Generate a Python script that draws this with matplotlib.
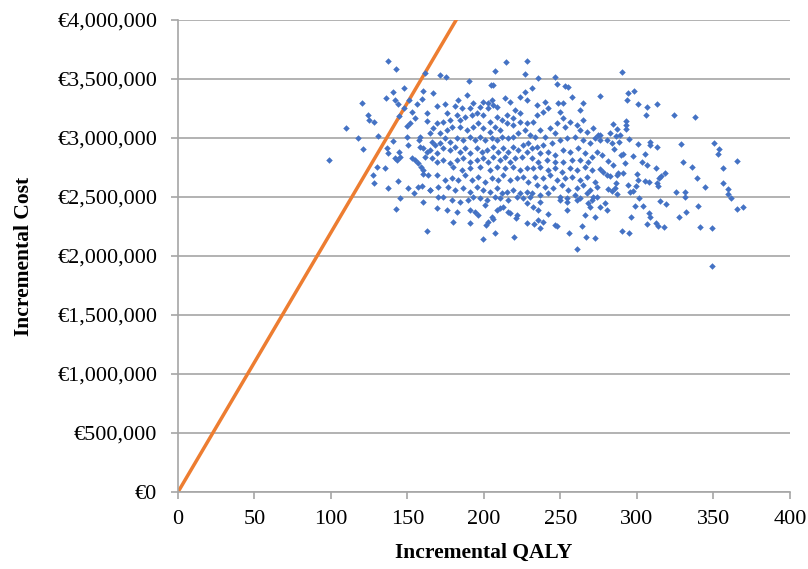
import numpy as np
import matplotlib
matplotlib.use('Agg')
import matplotlib.pyplot as plt
from matplotlib.ticker import FuncFormatter, MultipleLocator

# probabilistic sensitivity analysis, read off the picture region by region
# (QALY gained, cost in EUR millions)
qaly_left = [137.5, 142.7, 161.5, 171.2, 175.2, 147.7, 140.3, 160.3, 120.0, 136.0,
             141.8, 143.6, 151.0, 156.0, 159.3, 124.4, 124.8, 128.1, 144.4, 147.7,
             152.7, 154.9, 151.6, 149.9, 162.5, 163.0, 109.8, 117.4, 120.7, 98.7,
             130.9, 136.4, 137.5, 140.3, 141.8, 143.4, 144.6, 145.1, 150.0, 150.5,
             158.2, 157.5, 152.7, 154.9, 157.1, 158.6, 158.2, 160.3, 162.5, 161.4,
             127.7, 128.1, 130.3, 135.3, 137.5, 143.6, 145.1, 142.3, 150.5, 154.5,
             157.0, 159.3, 159.9, 162.5, 160.4, 160.4, 163.6, 164.7]
cost_left = [3.653, 3.582, 3.55, 3.534, 3.52, 3.426, 3.392, 3.40, 3.30, 3.336,
             3.32, 3.29, 3.32, 3.29, 3.33, 3.195, 3.152, 3.138, 3.186, 3.25,
             3.22, 3.166, 3.125, 3.10, 3.21, 3.147, 3.082, 2.997, 2.907, 2.813,
             3.017, 2.918, 2.87, 2.977, 2.828, 2.814, 2.884, 2.842, 3.006, 2.94,
             3.011, 2.983, 2.828, 2.814, 2.786, 2.757, 2.926, 2.912, 2.884, 2.842,
             2.686, 2.621, 2.752, 2.743, 2.574, 2.638, 2.489, 2.396, 2.574, 2.531,
             2.587, 2.593, 2.46, 2.212, 2.729, 2.695, 2.686, 2.559]

qaly_top = [214.4, 227.9, 207.4, 227.0, 235.1, 246.2, 190.4, 204.4, 206.1, 247.5,
            253.2, 254.7, 231.4, 227.0]
cost_top = [3.647, 3.655, 3.570, 3.540, 3.508, 3.52, 3.486, 3.447, 3.45, 3.458,
            3.443, 3.43, 3.426, 3.392]

qaly_low = [190.8, 199.2, 201.3, 202.8, 207.2, 219.6, 227.9, 232.7, 235.5, 236.6,
            238.8, 246.4, 247.5, 255.8, 260.6, 263.8, 266.7, 272.5, 272.5, 266.0,
            254.0, 242.0, 220.9, 221.8, 217.0, 215.9, 205.0, 206.0, 208.3, 196.3,
            194.0, 190.8, 200.7, 210.5, 212.6, 227.9, 232.2, 236.6, 235.5, 249.7,
            254.0, 260.6, 268.2, 269.3, 275.8, 280.2, 279.0, 273.6, 270.4]
cost_low = [2.277, 2.141, 2.263, 2.29, 2.192, 2.158, 2.277, 2.271, 2.305, 2.235,
            2.29, 2.263, 2.257, 2.198, 2.057, 2.254, 2.164, 2.15, 2.333, 2.348,
            2.39, 2.353, 2.319, 2.347, 2.362, 2.376, 2.333, 2.311, 2.39, 2.347,
            2.376, 2.39, 2.432, 2.404, 2.418, 2.447, 2.418, 2.46, 2.39, 2.475,
            2.46, 2.475, 2.447, 2.418, 2.418, 2.39, 2.447, 2.5, 2.475]

qaly_right_up = [290.0, 275.8, 294.3, 298.0, 293.3, 300.9, 306.3, 305.9, 313.3, 324.2,
                 337.7, 284.1, 287.1, 292.8, 292.8, 292.8, 275.8, 282.4, 286.3, 288.9,
                 280.6, 283.5, 288.4, 295.0, 300.9, 308.5, 308.5, 312.9, 328.6, 350.3,
                 353.8, 353.1, 285.0, 289.3, 291.0, 297.2, 281.3, 284.1, 292.2, 305.2,
                 303.1, 306.3, 312.4, 329.9, 335.8, 365.6, 356.0]
cost_right_up = [3.559, 3.356, 3.379, 3.396, 3.322, 3.286, 3.26, 3.195, 3.288, 3.195,
                 3.178, 3.119, 3.076, 3.147, 3.113, 3.079, 3.025, 3.04, 3.017, 3.025,
                 2.983, 2.96, 2.966, 2.994, 2.949, 2.969, 2.941, 2.926, 2.947, 2.958,
                 2.907, 2.862, 2.904, 2.856, 2.865, 2.848, 2.808, 2.771, 2.791, 2.862,
                 2.8, 2.771, 2.743, 2.8, 2.752, 2.808, 2.743]

qaly_right_low = [275.8, 277.9, 280.2, 282.4, 286.7, 287.8, 290.6, 356.4, 359.7, 359.3,
                  361.4, 365.6, 369.5, 286.3, 281.3, 283.5, 286.7, 285.6, 294.3, 295.4,
                  297.6, 299.3, 300.2, 300.9, 305.2, 308.0, 312.9, 314.6, 315.7, 318.3,
                  313.9, 325.5, 331.4, 331.4, 339.0, 344.6, 298.7, 301.5, 304.1, 308.0,
                  308.5, 315.0, 318.9, 295.9, 306.3, 312.4, 313.9, 317.8, 290.0, 295.0,
                  327.7, 332.0, 340.1, 341.2, 348.8, 348.8]
cost_right_low = [2.735, 2.714, 2.686, 2.678, 2.686, 2.701, 2.701, 2.616, 2.565, 2.523,
                  2.489, 2.398, 2.418, 2.616, 2.565, 2.553, 2.523, 2.574, 2.6, 2.544,
                  2.553, 2.593, 2.695, 2.644, 2.638, 2.63, 2.616, 2.659, 2.678, 2.701,
                  2.593, 2.545, 2.54, 2.503, 2.659, 2.587, 2.426, 2.489, 2.426, 2.367,
                  2.333, 2.468, 2.44, 2.328, 2.268, 2.277, 2.254, 2.243, 2.214, 2.198,
                  2.328, 2.376, 2.424, 2.248, 2.235, 1.915]

qaly_core_a = [166.9, 174.5, 169.1, 181.1, 183.2, 188.7, 193.0, 185.4, 190.9, 197.4,
               199.6, 202.8, 205.0, 206.1, 202.8, 208.3, 213.7, 217.0, 223.5, 227.9,
               220.3, 223.5, 219.2, 214.8, 211.6, 208.3, 203.9, 199.6, 195.2, 191.9,
               187.6, 184.3, 182.1, 177.8, 175.6, 173.4, 169.1, 166.9, 164.7, 171.2,
               175.6, 178.9, 184.3, 188.7, 193.0, 196.3, 199.6, 203.9, 207.2, 210.5,
               214.8, 219.2, 223.5, 227.9, 226.8, 222.5, 219.2, 215.9, 211.6, 208.3,
               205.0, 200.7, 197.4, 194.1, 190.9, 186.5, 182.1, 177.8, 174.5, 171.2,
               168.0, 165.8, 164.7, 169.1, 173.4, 177.8, 181.1, 184.3, 187.6, 190.9,
               195.2, 198.5, 201.8, 206.1, 209.4, 212.7, 215.9, 219.2, 222.5, 225.7,
               229.0, 227.9, 224.6, 220.3, 217.0, 213.7, 210.5, 206.1, 202.8, 199.6,
               195.2, 190.9, 186.5, 182.1, 177.8, 173.4, 169.1, 165.8]
cost_core_a = [3.379, 3.288, 3.271, 3.271, 3.322, 3.365, 3.294, 3.252, 3.252, 3.266,
               3.308, 3.294, 3.322, 3.28, 3.252, 3.266, 3.336, 3.308, 3.35, 3.322,
               3.237, 3.209, 3.167, 3.195, 3.153, 3.181, 3.139, 3.195, 3.209, 3.195,
               3.181, 3.153, 3.195, 3.153, 3.209, 3.139, 3.124, 3.082, 3.04, 3.04,
               3.068, 3.096, 3.096, 3.068, 3.096, 3.124, 3.082, 3.054, 3.096, 3.068,
               3.124, 3.11, 3.139, 3.124, 3.068, 3.04, 3.011, 2.997, 3.011, 2.983,
               2.997, 2.983, 3.011, 2.983, 3.011, 2.983, 2.997, 2.969, 2.997, 2.955,
               2.941, 2.969, 2.899, 2.87, 2.913, 2.899, 2.927, 2.884, 2.913, 2.87,
               2.913, 2.884, 2.899, 2.927, 2.884, 2.913, 2.884, 2.927, 2.899, 2.941,
               2.955, 2.884, 2.842, 2.828, 2.8, 2.842, 2.814, 2.842, 2.8, 2.828,
               2.814, 2.8, 2.828, 2.814, 2.785, 2.814, 2.8, 2.828]

qaly_core_b = [257.3, 239.9, 234.5, 248.6, 251.9, 265.0, 262.8, 242.1, 238.8, 249.7,
               251.9, 247.5, 243.2, 234.5, 232.3, 236.6, 230.1, 233.4, 239.9, 246.5,
               253.0, 256.3, 260.6, 265.0, 262.8, 267.2, 271.5, 274.8, 272.6, 275.9,
               269.3, 265.0, 259.5, 254.1, 249.7, 244.3, 238.8, 234.5, 231.2, 236.6,
               242.1, 246.5, 251.9, 256.3, 261.7, 266.1, 270.4, 268.3, 262.8, 257.3,
               251.9, 246.5, 241.0, 235.6, 231.2, 273.7, 277.0]
cost_core_b = [3.345, 3.308, 3.28, 3.294, 3.3, 3.3, 3.237, 3.252, 3.223, 3.223,
               3.167, 3.124, 3.082, 3.195, 3.139, 3.068, 3.026, 3.011, 3.011, 3.04,
               3.096, 3.139, 3.11, 3.153, 3.068, 3.054, 3.082, 3.026, 2.997, 2.983,
               2.955, 2.983, 3.011, 2.997, 2.983, 2.955, 2.941, 2.927, 2.913, 2.87,
               2.884, 2.856, 2.899, 2.884, 2.913, 2.87, 2.842, 2.8, 2.814, 2.814,
               2.8, 2.8, 2.814, 2.8, 2.828, 2.884, 2.856]

qaly_core_c = [180.0, 185.4, 190.9, 197.4, 203.9, 208.3, 213.7, 219.2, 223.5, 227.9,
               169.1, 174.5, 178.9, 183.2, 187.6, 191.9, 196.3, 200.7, 205.0, 209.4,
               212.7, 217.0, 221.4, 225.7, 229.0, 164.7, 170.2, 176.7, 181.1, 186.5,
               190.9, 195.2, 199.6, 203.9, 208.3, 211.6, 214.8, 219.2, 223.5, 227.9,
               170.2, 173.4, 178.9, 184.3, 189.8, 193.0, 197.4, 201.8, 207.2, 210.5,
               215.9, 221.4, 225.7, 230.1, 169.1, 175.6, 182.1, 180.0]
cost_core_c = [2.757, 2.729, 2.743, 2.757, 2.729, 2.757, 2.743, 2.757, 2.729, 2.743,
               2.686, 2.644, 2.658, 2.644, 2.686, 2.644, 2.672, 2.63, 2.658, 2.644,
               2.686, 2.644, 2.658, 2.672, 2.63, 2.559, 2.587, 2.587, 2.559, 2.573,
               2.545, 2.587, 2.559, 2.545, 2.573, 2.531, 2.545, 2.559, 2.531, 2.545,
               2.503, 2.503, 2.474, 2.46, 2.474, 2.503, 2.488, 2.474, 2.503, 2.488,
               2.474, 2.503, 2.488, 2.503, 2.404, 2.39, 2.376, 2.291]

qaly_core_d = [232.3, 236.6, 242.1, 246.5, 250.8, 256.3, 260.6, 266.1, 270.4, 233.4,
               238.8, 243.2, 247.5, 253.0, 257.4, 262.8, 267.2, 272.6, 234.5, 239.9,
               245.4, 250.8, 255.2, 260.6, 265.0, 269.3, 273.7, 231.2, 236.6, 242.1,
               249.7, 254.1, 259.5, 262.8, 267.2, 271.5]
cost_core_d = [2.743, 2.757, 2.729, 2.743, 2.714, 2.748, 2.729, 2.757, 2.729, 2.672,
               2.658, 2.686, 2.644, 2.658, 2.672, 2.644, 2.672, 2.63, 2.601, 2.587,
               2.573, 2.601, 2.559, 2.573, 2.601, 2.559, 2.587, 2.531, 2.517, 2.531,
               2.503, 2.488, 2.517, 2.488, 2.531, 2.503]

wtp = 22000  # EUR per QALY, threshold line

x_ticks = [0, 50, 100, 150, 200, 250, 300, 350, 400]

qaly = np.concatenate([qaly_left, qaly_top, qaly_low, qaly_right_up, qaly_right_low,
                       qaly_core_a, qaly_core_b, qaly_core_c, qaly_core_d])
cost = np.concatenate([cost_left, cost_top, cost_low, cost_right_up, cost_right_low,
                       cost_core_a, cost_core_b, cost_core_c, cost_core_d]) * 1e6

plt.rcParams['font.family'] = ['Liberation Serif', 'DejaVu Serif']

fig = plt.figure(figsize=(8.08, 5.69), dpi=100)
ax = fig.add_axes([0.2203, 0.1353, 0.7574, 0.8296])

ax.scatter(qaly, cost, marker='D', s=11, color='#4472C4', linewidths=0, zorder=3)
line_x = np.array([0, 400])
ax.plot(line_x, wtp * line_x, color='#ED7D31', lw=2.5, zorder=2)

ax.set_xlim(0, 400)
ax.set_ylim(0, 4000000)
ax.set_xticks(x_ticks)
ax.yaxis.set_major_locator(MultipleLocator(500000))
ax.yaxis.set_major_formatter(FuncFormatter(lambda v, p: '€{:,.0f}'.format(v)))

ax.grid(axis='y', color='#A6A6A6', lw=1.2)
ax.set_axisbelow(True)
for s in ['top', 'right']:
    ax.spines[s].set_visible(False)
for s in ['left', 'bottom']:
    ax.spines[s].set_color('#A6A6A6')
    ax.spines[s].set_linewidth(1.2)
ax.tick_params(axis='both', direction='out', length=5, width=1.2, color='#A6A6A6',
               labelsize=16, labelcolor='black')
ax.tick_params(axis='y', pad=10)
ax.tick_params(axis='x', pad=8)

ax.set_xlabel('Incremental QALY', fontsize=15.5, fontweight='bold', labelpad=10)
ax.set_ylabel('Incremental Cost', fontsize=15.5, fontweight='bold', labelpad=17)

fig.savefig('out.png', dpi=100)
